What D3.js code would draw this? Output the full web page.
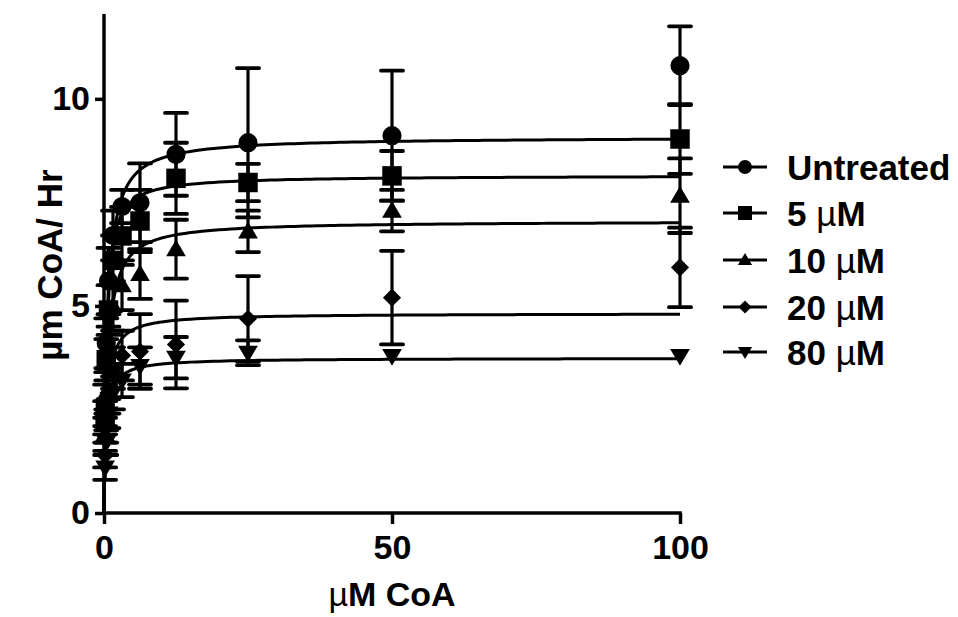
<!DOCTYPE html>
<html>
<head>
<meta charset="utf-8">
<script src="https://cdn.jsdelivr.net/npm/d3@7"></script>
<style>
  html, body { margin: 0; padding: 0; background: #fff; }
  svg text { font-family: "Liberation Sans", Arial, sans-serif; font-weight: bold; fill: #000; }
</style>
</head>
<body>
<svg id="chart" width="958" height="617"></svg>
<script>
// CoA concentrations (µM) shared by every series
const coa = [0.195, 0.39, 0.78, 1.56, 3.125, 6.25, 12.5, 25, 50, 100];

const seriesNames = ["Untreated", "5 µM", "10 µM", "20 µM", "80 µM"];
const markerKinds = ["circle", "square", "triangle", "diamond", "triangleDown"];

// Mean rate (µm CoA / Hr) for each treatment
const untreated = [2.6, 4.1, 5.6, 6.7, 7.4, 7.49, 8.66, 8.94, 9.11, 10.80];
const uM5       = [2.3, 3.7, 4.9, 6.1, 6.69, 7.05, 8.08, 7.98, 8.14, 9.03];
const uM10      = [1.9, 2.9, 4.0, 5.0, 5.5, 5.77, 6.37, 6.80, 7.30, 7.66];
const uM20      = [1.4, 2.1, 2.9, 3.5, 3.8, 3.90, 4.07, 4.69, 5.20, 5.93];
const uM80      = [1.1, 1.7, 2.4, 2.9, 3.2, 3.55, 3.75, 3.87, 3.79, 3.79];

// Standard deviations
const untreatedSD = [0.5, 0.6, 0.8, 0.6, 0.4, 0.95, 1.00, 1.80, 1.57, 0.95];
const uM5SD       = [0.4, 0.5, 0.6, 0.6, 0.7, 0.75, 0.86, 0.45, 0.60, 0.84];
const uM10SD      = [0.4, 0.5, 0.5, 0.6, 0.6, 0.60, 0.71, 0.50, 0.50, 0.90];
const uM20SD      = [0.3, 0.4, 0.5, 0.5, 0.6, 0.90, 1.06, 1.03, 1.13, 0.96];
const uM80SD      = [0.3, 0.3, 0.35, 0.4, 0.4, 0.45, 0.50, 0.30, 0, 0];

// Michaelis–Menten fit parameters per treatment
const fitVmax = [9.08, 8.15, 7.05, 4.82, 3.74];
const fitKm   = [0.60, 0.40, 0.62, 0.45, 0.40];

const xTicks = [0, 50, 100];
const yTicks = [0, 5, 10];

const means = [untreated, uM5, uM10, uM20, uM80];
const sds = [untreatedSD, uM5SD, uM10SD, uM20SD, uM80SD];

const svg = d3.select("#chart");

const x = d3.scaleLinear().domain([0, 100]).range([104, 680]);
const y = d3.scaleLinear().domain([0, 12]).range([513, 16]);

// marker shapes
const diamondType = {
  draw(ctx, size) {
    const r = Math.sqrt(size / 2);
    ctx.moveTo(0, -r); ctx.lineTo(r, 0); ctx.lineTo(0, r); ctx.lineTo(-r, 0); ctx.closePath();
  }
};
const triType = {
  draw(ctx, size) {
    const w = Math.sqrt(size * 2 / 0.85);
    const h = w * 0.85;
    ctx.moveTo(0, -h * 0.58); ctx.lineTo(w / 2, h * 0.42); ctx.lineTo(-w / 2, h * 0.42); ctx.closePath();
  }
};
function markerPath(kind, scale) {
  const s = scale * scale;
  switch (kind) {
    case "circle": return d3.symbol(d3.symbolCircle, 290 * s)();
    case "square": return d3.symbol(d3.symbolSquare, 380 * s)();
    case "triangle": return d3.symbol(triType, 165 * s)();
    case "diamond": return d3.symbol(diamondType, 165 * s)();
    case "triangleDown": return d3.symbol(triType, 165 * s)();
  }
}
function markerRot(kind) { return kind === "triangleDown" ? " rotate(180)" : ""; }

// axes
const yAxis = d3.axisLeft(y).tickValues(yTicks).tickSize(9).tickSizeOuter(0).tickPadding(5);
const xAxis = d3.axisBottom(x).tickValues(xTicks).tickSize(11).tickSizeOuter(0).tickPadding(11);

const gy = svg.append("g").attr("transform", "translate(104,0)").call(yAxis);
const gx = svg.append("g").attr("transform", "translate(0,513)").call(xAxis);
[gy, gx].forEach(g => {
  g.selectAll("path.domain").attr("stroke", "#000").attr("stroke-width", 3.5);
  g.selectAll(".tick line").attr("stroke", "#000").attr("stroke-width", 3.5);
  g.selectAll(".tick text").attr("font-size", 34).attr("font-family", "Liberation Sans, Arial, sans-serif").attr("font-weight", "bold").attr("fill", "#000");
});
gy.select("path.domain").attr("d", `M0,${y(12) - 2}V${y(0) + 1.75}`);
gx.select("path.domain").attr("d", `M${x(0) - 1.75},0H${x(100) + 1.75}`);

const plot = svg.append("g");

// fitted curves
const curveX = d3.range(0, 2, 0.02).concat(d3.range(2, 10, 0.2)).concat(d3.range(10, 100.01, 1));
means.forEach((m, i) => {
  const pts = curveX.map(c => [c, fitVmax[i] * c / (fitKm[i] + c)]);
  plot.append("path")
    .attr("d", d3.line().x(d => x(d[0])).y(d => y(d[1]))(pts))
    .attr("fill", "none").attr("stroke", "#000").attr("stroke-width", 3);
});

// error bars
means.forEach((m, i) => {
  m.forEach((v, j) => {
    const sd = sds[i][j];
    if (!sd) return;
    const cx = x(coa[j]);
    const g = plot.append("g").attr("stroke", "#000").attr("stroke-width", 3.2);
    g.append("line").attr("x1", cx).attr("x2", cx).attr("y1", y(v + sd)).attr("y2", y(v - sd));
    [v + sd, v - sd].forEach(e => {
      g.append("line").attr("x1", cx - 11).attr("x2", cx + 11).attr("y1", y(e)).attr("y2", y(e))
        .attr("stroke-width", 3.8).attr("stroke-linecap", "round");
    });
  });
});

// markers
means.forEach((m, i) => {
  plot.selectAll(null).data(m).enter().append("path")
    .attr("d", markerPath(markerKinds[i], 1))
    .attr("transform", (v, j) => `translate(${x(coa[j])},${y(v)})${markerRot(markerKinds[i])}`)
    .attr("fill", "#000");
});

// legend
const legend = svg.append("g");
const rowY = [167, 213, 260, 307, 352];
seriesNames.forEach((name, i) => {
  const g = legend.append("g").attr("transform", `translate(745,${rowY[i]})`);
  g.append("line").attr("x1", -22).attr("x2", 22).attr("y1", 0).attr("y2", 0)
    .attr("stroke", "#000").attr("stroke-width", 3.2);
  g.append("path").attr("d", markerPath(markerKinds[i], 0.72))
    .attr("transform", markerRot(markerKinds[i]).trim() || null).attr("fill", "#000");
  const t = g.append("text").attr("x", 42).attr("dy", "0.36em").attr("font-size", 35);
  const mu = name.indexOf("µ");
  if (mu < 0) {
    t.text(name);
  } else {
    t.append("tspan").text(name.slice(0, mu));
    t.append("tspan").attr("font-weight", "normal").text("µ");
    t.append("tspan").text(name.slice(mu + 1));
  }
});

// axis titles
const xt = svg.append("text").attr("x", 392).attr("y", 606).attr("text-anchor", "middle").attr("font-size", 34);
xt.append("tspan").attr("font-weight", "normal").text("µ");
xt.append("tspan").text("M CoA");

svg.append("text")
  .attr("transform", "translate(62,265) rotate(-90)")
  .attr("text-anchor", "middle").attr("font-size", 35)
  .text("µm CoA/ Hr");
</script>
</body>
</html>
